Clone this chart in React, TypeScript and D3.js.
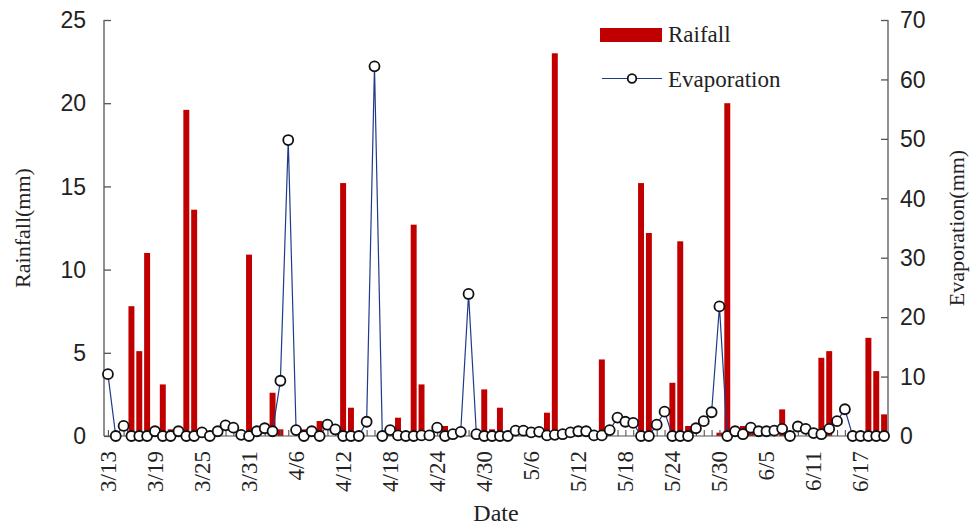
import React, { useRef, useEffect } from "react";
import * as d3 from "d3";

// daily records, 3/13 .. 6/20
const startDay = new Date(2014, 2, 13);
const days = d3.timeDay.range(startDay, d3.timeDay.offset(startDay, 100));
const dayLabels = days.map((d) => d3.timeFormat("%-m/%-d")(d));

const rainfall = [
  0, 0, 0, 7.8, 5.1, 11.0, 0, 3.1, 0.4, 0,
  19.6, 13.6, 0, 0, 0, 0, 0, 0, 10.9, 0,
  0, 2.6, 0.4, 0, 0, 0.4, 0, 0.9, 0, 0,
  15.2, 1.7, 0, 0, 0, 0, 0, 1.1, 0, 12.7,
  3.1, 0, 0, 0.6, 0, 0, 0, 0, 2.8, 0.4,
  1.7, 0, 0, 0, 0, 0, 1.4, 23.0, 0, 0,
  0, 0, 0, 4.6, 0, 0, 0, 0, 15.2, 12.2,
  0, 0, 3.2, 11.7, 0.6, 0, 0, 0, 0.2, 20.0,
  0, 0.6, 0.3, 0, 0, 0, 1.6, 0, 0, 0,
  0, 4.7, 5.1, 0, 0, 0, 0, 5.9, 3.9, 1.3,
];

const evaporation = [
  10.4, 0, 1.7, 0, 0, 0, 0.8, 0, 0, 0.8,
  0, 0, 0.6, 0, 0.8, 1.8, 1.4, 0.2, 0, 0.8,
  1.3, 0.8, 9.3, 49.8, 1.0, 0, 0.8, 0, 1.9, 1.1,
  0, 0, 0, 2.4, 62.2, 0, 1.0, 0.1, 0, 0,
  0.1, 0.1, 1.4, 0, 0.3, 0.7, 23.9, 0.3, 0, 0,
  0, 0, 0.9, 0.9, 0.6, 0.7, 0.1, 0.2, 0.3, 0.6,
  0.8, 0.8, 0.1, 0.1, 1.0, 3.1, 2.4, 2.2, 0, 0,
  1.9, 4.1, 0, 0, 0, 1.3, 2.5, 4.0, 21.8, 0,
  0.8, 0.3, 1.4, 0.8, 0.8, 0.9, 1.2, 0, 1.6, 1.2,
  0.5, 0.3, 1.2, 2.5, 4.5, 0, 0, 0, 0, 0,
];

const rainTicks = [0, 5, 10, 15, 20, 25];
const evapTicks = [0, 10, 20, 30, 40, 50, 60, 70];
const labelEvery = 6;

const App = () => {
  const chartRef = useRef(null);

  useEffect(() => {
    const width = 970;
    const height = 528;
    const margin = { top: 20, right: 82, bottom: 92, left: 104 };
    const x0 = margin.left;
    const x1 = width - margin.right;
    const y0 = height - margin.bottom;
    const y1 = margin.top;

    const x = d3.scalePoint().domain(d3.range(dayLabels.length)).range([x0, x1]).padding(0.5);
    const barW = x.step() * 0.76;
    const yRain = d3.scaleLinear().domain([0, 25]).range([y0, y1]);
    const yEvap = d3.scaleLinear().domain([0, 70]).range([y0, y1]);

    const svg = d3
      .select(chartRef.current)
      .append("svg")
      .attr("width", width)
      .attr("height", height)
      .style("position", "absolute")
      .style("left", 0)
      .style("top", 0)
      .style("background", "#fff");

    const axisColor = "#555";
    const numFont = "Liberation Sans, Arial, sans-serif";
    const serif = "Liberation Serif, Times New Roman, serif";

    // bars
    svg
      .append("g")
      .selectAll("rect")
      .data(rainfall)
      .enter()
      .append("rect")
      .attr("x", (d, i) => x(i) - barW / 2)
      .attr("y", (d) => yRain(d))
      .attr("width", barW)
      .attr("height", (d) => y0 - yRain(d))
      .attr("fill", "#c00000");

    // axes
    const leftAxis = svg
      .append("g")
      .attr("transform", `translate(${x0},0)`)
      .call(d3.axisRight(yRain).tickValues(rainTicks).tickSize(7).tickFormat(() => ""));
    leftAxis.selectAll("path,line").attr("stroke", axisColor).attr("stroke-width", 1.3);
    leftAxis.select(".domain").attr("d", `M0,${y1}V${y0}`);

    const rightAxis = svg
      .append("g")
      .attr("transform", `translate(${x1},0)`)
      .call(d3.axisLeft(yEvap).tickValues(evapTicks).tickSize(7).tickFormat(() => ""));
    rightAxis.selectAll("path,line").attr("stroke", axisColor).attr("stroke-width", 1.3);
    rightAxis.select(".domain").attr("d", `M0,${y1}V${y0}`);

    const bottomAxis = svg
      .append("g")
      .attr("transform", `translate(0,${y0})`)
      .call(d3.axisTop(x).tickSize(6).tickFormat(() => ""));
    bottomAxis.selectAll("path,line").attr("stroke", axisColor).attr("stroke-width", 1.1);
    bottomAxis.select(".domain").attr("d", `M${x0},0H${x1}`);

    // tick labels
    svg
      .append("g")
      .selectAll("text")
      .data(rainTicks)
      .enter()
      .append("text")
      .attr("x", x0 - 18)
      .attr("y", (d) => yRain(d))
      .attr("dy", "0.36em")
      .attr("text-anchor", "end")
      .style("font-family", numFont)
      .style("font-size", "23px")
      .attr("fill", "#222")
      .text((d) => d);

    svg
      .append("g")
      .selectAll("text")
      .data(evapTicks)
      .enter()
      .append("text")
      .attr("x", x1 + 12)
      .attr("y", (d) => yEvap(d))
      .attr("dy", "0.36em")
      .attr("text-anchor", "start")
      .style("font-family", numFont)
      .style("font-size", "23px")
      .attr("fill", "#222")
      .text((d) => d);

    svg
      .append("g")
      .selectAll("text")
      .data(d3.range(0, dayLabels.length, labelEvery))
      .enter()
      .append("text")
      .attr("transform", (i) => `translate(${x(i)},${y0 + 15}) rotate(-90)`)
      .attr("dy", "0.33em")
      .attr("text-anchor", "end")
      .style("font-family", serif)
      .style("font-size", "23px")
      .attr("fill", "#222")
      .text((i) => dayLabels[i]);

    // evaporation line + markers
    const line = d3
      .line()
      .x((d, i) => x(i))
      .y((d) => yEvap(d));
    svg
      .append("path")
      .datum(evaporation)
      .attr("d", line)
      .attr("fill", "none")
      .attr("stroke", "#1f3a8a")
      .attr("stroke-width", 1.2);

    svg
      .append("g")
      .selectAll("circle")
      .data(evaporation)
      .enter()
      .append("circle")
      .attr("cx", (d, i) => x(i))
      .attr("cy", (d) => yEvap(d))
      .attr("r", 5)
      .attr("fill", "#fff")
      .attr("stroke", "#111")
      .attr("stroke-width", 1.8);

    // axis titles
    svg
      .append("text")
      .attr("transform", `translate(22,${(y0 + y1) / 2}) rotate(-90)`)
      .attr("dy", "0.35em")
      .attr("text-anchor", "middle")
      .style("font-family", serif)
      .style("font-size", "22px")
      .attr("fill", "#222")
      .text("Rainfall(mm)");

    svg
      .append("text")
      .attr("transform", `translate(956,${(y0 + y1) / 2}) rotate(-90)`)
      .attr("dy", "0.35em")
      .attr("text-anchor", "middle")
      .style("font-family", serif)
      .style("font-size", "22px")
      .attr("fill", "#222")
      .text("Evaporation(mm)");

    svg
      .append("text")
      .attr("x", (x0 + x1) / 2)
      .attr("y", 521)
      .attr("text-anchor", "middle")
      .style("font-family", serif)
      .style("font-size", "24px")
      .attr("fill", "#222")
      .text("Date");

    // legend
    const legend = svg.append("g").attr("transform", "translate(600,0)");
    legend.append("rect").attr("x", 0).attr("y", 28).attr("width", 62).attr("height", 14).attr("fill", "#c00000");
    legend
      .append("text")
      .attr("x", 68)
      .attr("y", 42)
      .style("font-family", serif)
      .style("font-size", "23px")
      .attr("fill", "#222")
      .text("Raifall");
    legend
      .append("line")
      .attr("x1", 2)
      .attr("x2", 62)
      .attr("y1", 78.5)
      .attr("y2", 78.5)
      .attr("stroke", "#1f3a8a")
      .attr("stroke-width", 1.2);
    legend
      .append("circle")
      .attr("cx", 32)
      .attr("cy", 78.5)
      .attr("r", 4.3)
      .attr("fill", "#fff")
      .attr("stroke", "#111")
      .attr("stroke-width", 1.8);
    legend
      .append("text")
      .attr("x", 68)
      .attr("y", 86.5)
      .style("font-family", serif)
      .style("font-size", "23px")
      .attr("fill", "#222")
      .text("Evaporation");

    return () => {
      if (chartRef.current) chartRef.current.innerHTML = "";
    };
  }, []);

  return <div ref={chartRef}></div>;
};

export default App;
